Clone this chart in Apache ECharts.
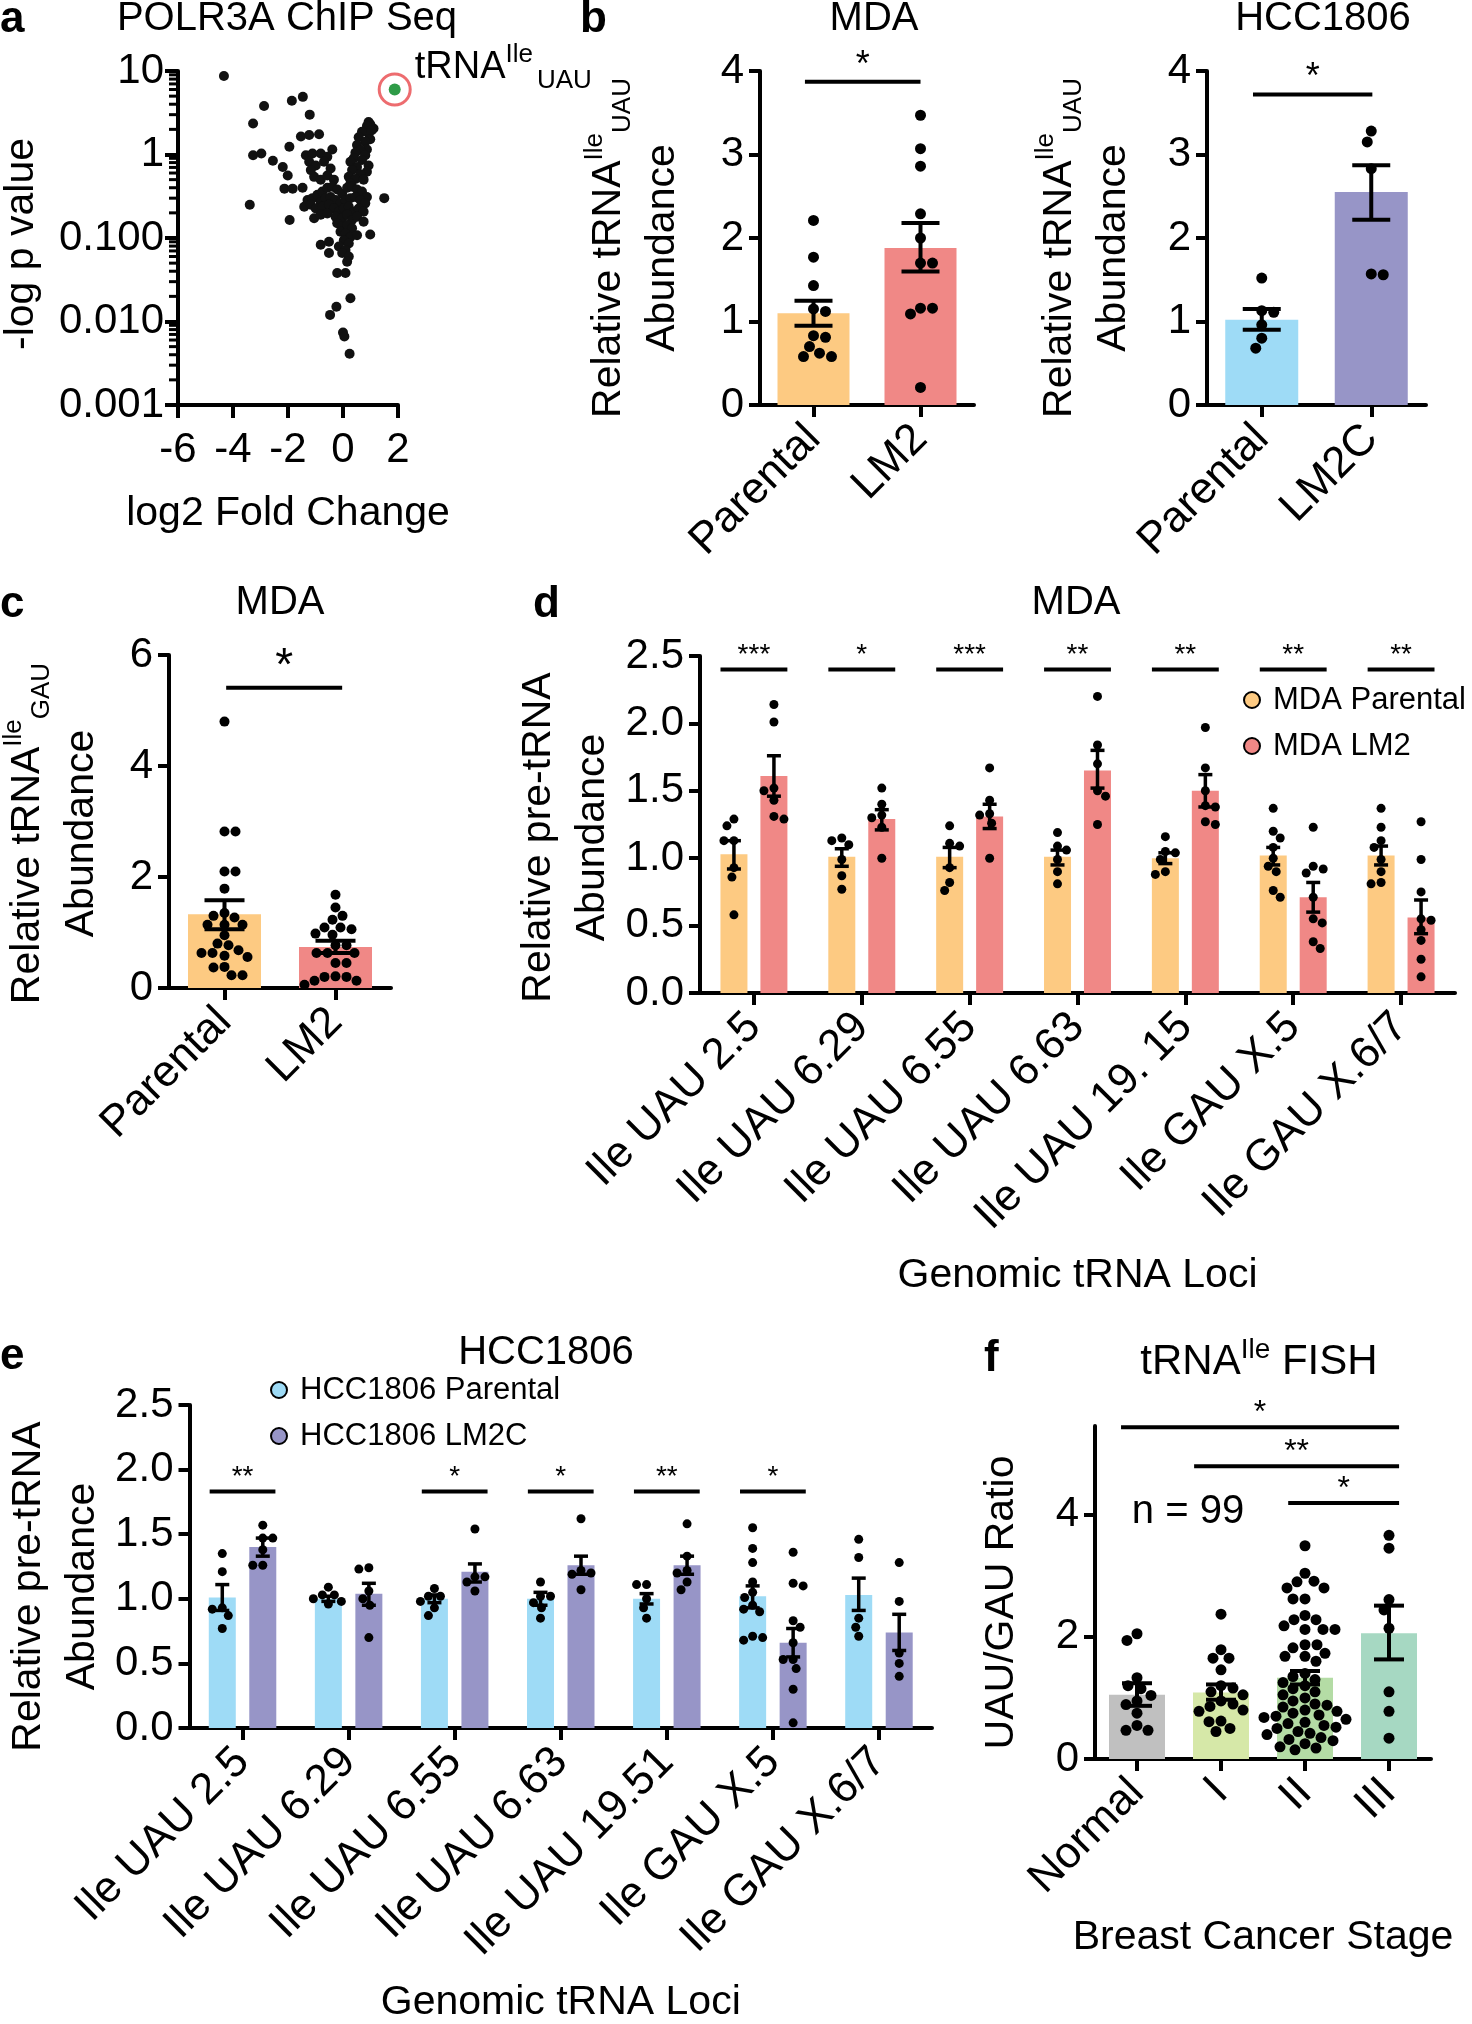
<!DOCTYPE html>
<html>
<head>
<meta charset="utf-8">
<script src="https://cdn.jsdelivr.net/npm/echarts@6/dist/echarts.min.js"></script>
<style>
html, body { margin: 0; padding: 0; background: #fff; }
#chart { width: 1472px; height: 2024px; }
</style>
</head>
<body>
<div id="chart"></div>
<script>
const FONT = '"Liberation Sans", Arial, Helvetica, sans-serif'

// ---- a: POLR3A ChIP Seq volcano (log2 FC, -log p) ----
const volcanoPoints = [
  // outliers
  [-4.33, 8.7], [-1.46, 4.9], [-1.86, 4.4], [-2.87, 3.8], [-1.21, 3.0], [-3.27, 2.35],
  [-3.27, 0.98], [-2.97, 1.03], [-3.39, 0.25], [-1.94, 0.164], [1.5, 0.3], [0.99, 0.11],
  [-0.24, 0.015], [-0.47, 0.012], [0.0, 0.0074], [0.05, 0.0066], [0.24, 0.0041],
  // right arm
  [0.93, 2.45], [0.99, 2.3], [1.11, 2.05], [0.87, 2.19], [1.05, 1.96], [0.93, 1.79], [0.69, 1.87],
  [0.57, 1.61], [0.99, 1.52], [0.81, 1.42], [0.51, 1.3], [0.87, 1.15], [0.63, 1.13], [0.45, 1.05],
  [0.81, 0.98], [0.39, 0.9], [0.69, 0.86], [0.27, 0.82], [0.93, 0.74], [0.51, 0.71], [0.33, 0.65],
  [0.87, 0.62], [0.63, 0.58], [0.21, 0.54], [0.45, 0.51], [0.75, 0.5], [0.27, 0.45],
  // left arm
  [-1.53, 1.64], [-1.23, 1.71], [-0.87, 1.75], [-1.95, 1.24], [-0.39, 1.15], [-1.35, 0.98],
  [-1.11, 1.03], [-0.81, 1.03], [-0.57, 0.94], [-1.23, 0.82], [-0.99, 0.74], [-0.69, 0.82],
  [-0.45, 0.68], [-1.05, 0.54], [-0.81, 0.5], [-0.57, 0.56], [-0.33, 0.5], [-2.19, 0.71],
  [-2.01, 0.56], [-2.13, 0.39], [-1.83, 0.39], [-1.47, 0.4], [-2.55, 0.84], [-1.17, 0.65],
  // centre
  [-1.29, 0.285], [-1.11, 0.3], [-0.93, 0.33], [-0.75, 0.36], [-0.57, 0.4], [-0.39, 0.41],
  [-0.21, 0.38], [-0.03, 0.34], [0.15, 0.4], [0.33, 0.41], [0.51, 0.38], [0.69, 0.36], [0.87, 0.31],
  [-0.81, 0.27], [-0.63, 0.3], [-0.45, 0.31], [-0.27, 0.285], [-0.09, 0.26], [0.09, 0.285],
  [0.27, 0.3], [0.45, 0.31], [0.63, 0.285], [0.81, 0.26], [-1.41, 0.237], [-1.17, 0.25],
  [-0.99, 0.226], [-0.75, 0.237], [-0.51, 0.25], [-0.33, 0.226], [-0.15, 0.206], [0.03, 0.226],
  [0.21, 0.237], [0.39, 0.206], [0.57, 0.226], [0.75, 0.206], [-1.05, 0.172], [-0.81, 0.19],
  [-0.57, 0.197], [-0.27, 0.18], [-0.03, 0.172], [0.15, 0.19], [0.33, 0.164], [0.51, 0.18], [0.75, 0.157],
  // lower tail
  [-0.21, 0.15], [-0.03, 0.137], [0.15, 0.143], [0.33, 0.131], [-0.09, 0.119], [0.09, 0.113],
  [0.27, 0.103], [0.51, 0.108], [0.03, 0.094], [0.21, 0.086], [-0.15, 0.079], [0.09, 0.072],
  [-0.03, 0.066], [0.21, 0.06], [0.15, 0.052], [-0.81, 0.083], [-0.51, 0.09], [-0.51, 0.066],
  [-0.21, 0.038], [0.09, 0.038], [0.27, 0.019]
]
const volcanoHit = [[1.88, 6.0]]

// ---- b: tRNA-Ile-UAU abundance ----
const bMdaCats = ['Parental', 'LM2']
const bMdaMean = [1.1, 1.88]
const bMdaLo = [0.95, 1.6]
const bMdaHi = [1.25, 2.18]
const bMdaDots = [
  [2.21, 1.77, 1.43, 1.15, 1.12, 0.83, 0.81, 0.7, 0.62, 0.58, 0.58],
  [3.47, 3.07, 2.86, 2.29, 2.0, 1.7, 1.7, 1.16, 1.16, 1.09, 0.21]
]
const bHccCats = ['Parental', 'LM2C']
const bHccMean = [1.02, 2.55]
const bHccLo = [0.9, 2.22]
const bHccHi = [1.15, 2.87]
const bHccDots = [
  [1.52, 1.13, 1.11, 0.96, 0.8, 0.68],
  [3.28, 3.15, 2.83, 1.57, 1.56]
]

// ---- c: tRNA-Ile-GAU abundance ----
const cCats = ['Parental', 'LM2']
const cMean = [1.33, 0.74]
const cLo = [1.06, 0.63]
const cHi = [1.58, 0.85]
const cDots = [
  [4.8, 2.82, 2.82, 2.1, 2.1, 1.79, 1.35, 1.3, 1.27, 1.14, 1.14, 1.14, 0.95, 0.8, 0.77, 0.68, 0.63, 0.63, 0.58, 0.56, 0.38, 0.37, 0.23, 0.23],
  [1.68, 1.45, 1.3, 1.23, 1.09, 1.09, 1.06, 0.98, 0.96, 0.77, 0.77, 0.63, 0.63, 0.63, 0.45, 0.45, 0.21, 0.2, 0.2, 0.13, 0.13, 0.06]
]

// ---- d: MDA pre-tRNA ----
const dCats = ['Ile UAU 2.5', 'Ile UAU 6.29', 'Ile UAU 6.55', 'Ile UAU 6.63', 'Ile UAU 19. 15', 'Ile GAU X.5', 'Ile GAU X.6/7']
const dParMean = [1.03, 1.01, 1.01, 1.01, 1.0, 1.02, 1.02]
const dParLo = [0.92, 0.94, 0.93, 0.95, 0.96, 0.95, 0.95]
const dParHi = [1.13, 1.07, 1.08, 1.06, 1.04, 1.08, 1.09]
const dLm2Mean = [1.61, 1.29, 1.31, 1.65, 1.5, 0.71, 0.56]
const dLm2Lo = [1.46, 1.21, 1.22, 1.52, 1.38, 0.6, 0.44]
const dLm2Hi = [1.76, 1.36, 1.4, 1.8, 1.62, 0.82, 0.69]
const dParDots = [
  [1.29, 1.24, 1.13, 1.13, 0.93, 0.86, 0.58],
  [1.15, 1.13, 1.1, 0.99, 0.87, 0.77],
  [1.24, 1.11, 1.09, 0.93, 0.82, 0.76],
  [1.19, 1.09, 1.06, 0.99, 0.9, 0.81],
  [1.16, 1.05, 1.04, 0.99, 0.9, 0.88],
  [1.37, 1.2, 1.15, 1.08, 1.0, 0.94, 0.9, 0.76, 0.71],
  [1.37, 1.23, 1.13, 1.08, 0.99, 0.9, 0.82, 0.81]
]
const dLm2Dots = [
  [2.14, 2.01, 1.52, 1.5, 1.43, 1.31, 1.29],
  [1.52, 1.4, 1.32, 1.3, 1.23, 1.0],
  [1.67, 1.43, 1.33, 1.32, 1.26, 1.0],
  [2.2, 1.84, 1.7, 1.5, 1.46, 1.25],
  [1.97, 1.67, 1.5, 1.39, 1.38, 1.27, 1.25],
  [1.23, 0.94, 0.92, 0.89, 0.71, 0.55, 0.52, 0.38, 0.33],
  [1.27, 0.99, 0.75, 0.55, 0.54, 0.47, 0.39, 0.25, 0.12]
]
const dStars = ['***', '*', '***', '**', '**', '**', '**']

// ---- e: HCC1806 pre-tRNA ----
const eCats = ['Ile UAU 2.5', 'Ile UAU 6.29', 'Ile UAU 6.55', 'Ile UAU 6.63', 'Ile UAU 19.51', 'Ile GAU X.5', 'Ile GAU X.6/7']
const eParMean = [1.01, 1.0, 1.0, 1.0, 1.0, 1.02, 1.03]
const eParLo = [0.91, 0.98, 0.97, 0.95, 0.96, 0.93, 0.91]
const eParHi = [1.11, 1.02, 1.03, 1.05, 1.04, 1.1, 1.16]
const eLmMean = [1.4, 1.04, 1.21, 1.26, 1.26, 0.66, 0.74]
const eLmLo = [1.33, 0.95, 1.13, 1.19, 1.19, 0.55, 0.6]
const eLmHi = [1.47, 1.12, 1.27, 1.33, 1.33, 0.77, 0.88]
const eParDots = [
  [1.35, 1.21, 0.93, 0.92, 0.87, 0.77],
  [1.09, 1.03, 1.03, 1.0, 0.98, 0.96],
  [1.08, 1.02, 1.02, 0.98, 0.93, 0.87],
  [1.13, 1.02, 1.02, 0.97, 0.93, 0.85],
  [1.11, 1.11, 1.0, 0.93, 0.85],
  [1.55, 1.39, 1.28, 1.13, 1.05, 1.01, 0.95, 0.92, 0.9, 0.71, 0.7, 0.68],
  [1.46, 1.32, 0.85, 0.78, 0.71]
]
const eLmDots = [
  [1.57, 1.47, 1.47, 1.38, 1.26, 1.26],
  [1.24, 1.23, 1.06, 1.0, 0.95, 0.7],
  [1.54, 1.17, 1.17, 1.13, 1.06],
  [1.62, 1.22, 1.2, 1.19, 1.07],
  [1.58, 1.33, 1.22, 1.2, 1.13, 1.07],
  [1.36, 1.12, 1.1, 0.83, 0.78, 0.66, 0.53, 0.53, 0.46, 0.3, 0.04],
  [1.28, 0.98, 0.58, 0.5, 0.4]
]
const eStars = ['**', '', '*', '*', '**', '*', '']

// ---- f: tRNA-Ile FISH, UAU/GAU ratio by stage ----
const fCats = ['Normal', 'I', 'II', 'III']
const fMean = [1.05, 1.09, 1.33, 2.06]
const fLo = [0.87, 0.97, 1.22, 1.63]
const fHi = [1.24, 1.22, 1.44, 2.51]
const fDots = [
  [2.05, 1.94, 1.33, 1.2, 1.15, 1.04, 0.95, 0.89, 0.75, 0.55, 0.47, 0.47],
  [2.37, 1.79, 1.65, 1.65, 1.46, 1.2, 1.16, 1.1, 1.05, 0.95, 0.9, 0.86, 0.8, 0.78, 0.62, 0.61, 0.5, 0.45],
  [3.49, 3.04, 2.91, 2.9, 2.8, 2.8, 2.62, 2.62, 2.35, 2.28, 2.28, 2.18, 2.12, 2.12, 2.12, 1.87, 1.87, 1.82,
    1.73, 1.68, 1.68, 1.6, 1.4, 1.35, 1.3, 1.25, 1.2, 1.15, 1.1, 1.05, 1.0, 0.95, 0.9, 0.88, 0.85, 0.8, 0.78,
    0.75, 0.72, 0.7, 0.68, 0.65, 0.6, 0.58, 0.55, 0.52, 0.5, 0.45, 0.42, 0.4, 0.35, 0.32, 0.3, 0.25, 0.2, 0.18, 0.15],
  [3.66, 3.45, 2.61, 2.44, 2.14, 1.1, 0.78, 0.34]
]
const fBrackets = [[-0.19, 3.12, 5.43, '*'], [0.68, 3.12, 4.79, '**'], [1.8, 3.12, 4.19, '*']]

const palette = {
  mdaPar: '#fdca82', mdaLm2: '#f08886', hccPar: '#9edbf6', hccLm2: '#9795c7',
  fStage: ['#c0c0c0', '#d6e8a8', '#b4dca5', '#a6d8c2']
}

const grids = [
  { left: 176, top: 71, width: 222, height: 334 },
  { left: 760, top: 71, width: 214, height: 334 },
  { left: 1207, top: 71, width: 219, height: 334 },
  { left: 169, top: 655, width: 222, height: 333 },
  { left: 700, top: 656, width: 755, height: 337 },
  { left: 169, top: 1405, width: 763, height: 335 },
  { left: 1095, top: 1426, width: 336, height: 333 }
]

const nameRich = {
  t: { fontSize: 41, fontFamily: FONT, color: '#000', lineHeight: 54 },
  sup: { fontSize: 26, fontFamily: FONT, color: '#000', verticalAlign: 'top', lineHeight: 26 },
  sub: { fontSize: 26, fontFamily: FONT, color: '#000', verticalAlign: 'bottom', lineHeight: 26 }
}

// simple beeswarm: nudge dots sideways until they stop overlapping
function swarm (ys, r) {
  const d = 2 * r + 0.5
  const order = ys.map((y, i) => i).sort((a, b) => ys[a] - ys[b])
  const placed = []
  const dx = new Array(ys.length).fill(0)
  order.forEach((i, n) => {
    const y = ys[i]
    for (let k = 0; k < 400; k++) {
      const sgn = (k + n) % 2 ? 1 : -1
      const cand = k === 0 ? 0 : sgn * Math.ceil(k / 2)
      if (placed.every(p => (p[0] - cand) ** 2 + (p[1] - y) ** 2 >= d * d)) {
        dx[i] = cand
        placed.push([cand, y])
        break
      }
    }
  })
  return dx
}

function dotSeries (gi, groups, o) {
  return {
    type: 'custom',
    xAxisIndex: gi,
    yAxisIndex: gi,
    z: 5,
    clip: false,
    silent: true,
    data: groups.map(g => [g.cat, g.hi]),
    encode: { x: 0, y: 1 },
    renderItem (params, api) {
      const g = groups[params.dataIndex]
      const cx = api.coord([g.cat, 0])[0] + g.off
      const ys = g.vals.map(v => api.coord([g.cat, v])[1])
      const dx = swarm(ys, o.r)
      const yHi = api.coord([g.cat, g.hi])[1]
      const yLo = api.coord([g.cat, g.lo])[1]
      const ln = { stroke: '#000', lineWidth: o.lw }
      const children = ys.map((y, k) => ({
        type: 'circle', shape: { cx: cx + dx[k], cy: y, r: o.r }, style: { fill: '#000' }
      }))
      children.push(
        { type: 'line', shape: { x1: cx, y1: yHi, x2: cx, y2: yLo }, style: ln },
        { type: 'line', shape: { x1: cx - o.cap, y1: yHi, x2: cx + o.cap, y2: yHi }, style: ln },
        { type: 'line', shape: { x1: cx - o.cap, y1: yLo, x2: cx + o.cap, y2: yLo }, style: ln }
      )
      return { type: 'group', children }
    }
  }
}

function sigSeries (gi, brackets, o) {
  return {
    type: 'custom',
    xAxisIndex: gi,
    yAxisIndex: gi,
    z: 6,
    clip: false,
    silent: true,
    data: brackets.map(b => [0, b[2]]),
    encode: { x: 0, y: 1 },
    renderItem (params, api) {
      const b = brackets[params.dataIndex]
      const band = api.size([1, 0])[0]
      const p = api.coord([0, b[2]])
      const x0 = p[0] + b[0] * band
      const x1 = p[0] + b[1] * band
      return {
        type: 'group',
        children: [
          { type: 'line', shape: { x1: x0, y1: p[1], x2: x1, y2: p[1] }, style: { stroke: '#000', lineWidth: o.lw } },
          {
            type: 'text',
            x: (x0 + x1) / 2,
            y: p[1] - o.lift,
            style: { text: b[3], font: o.font, fill: '#000', align: 'center', verticalAlign: 'middle' }
          }
        ]
      }
    }
  }
}

function singleGroups (lo, hi, dots) {
  return dots.map((v, i) => ({ cat: i, off: 0, lo: lo[i], hi: hi[i], vals: v }))
}
function pairGroups (lo1, hi1, dots1, lo2, hi2, dots2, off) {
  const out = []
  dots1.forEach((v, i) => {
    out.push({ cat: i, off: -off, lo: lo1[i], hi: hi1[i], vals: v })
    out.push({ cat: i, off: off, lo: lo2[i], hi: hi2[i], vals: dots2[i] })
  })
  return out
}

const axisLine = { show: true, onZero: false, lineStyle: { color: '#000', width: 4 } }
const tickStyle = { color: '#000', width: 4 }

function catAxis (gi, cats, extra) {
  return Object.assign({
    type: 'category',
    gridIndex: gi,
    data: cats,
    axisLine,
    axisTick: { show: true, alignWithLabel: true, length: 12, lineStyle: tickStyle },
    axisLabel: { show: true, interval: 0, rotate: 45, color: '#000', fontSize: 44, fontFamily: FONT, margin: 27 },
    splitLine: { show: false },
    nameLocation: 'middle',
    nameTextStyle: { color: '#000', fontSize: 41, fontFamily: FONT }
  }, extra)
}

// namePad pushes a rotated name down the axis a little, like the original layout
function valAxis (gi, max, interval, namePad, extra) {
  return Object.assign({
    type: 'value',
    gridIndex: gi,
    min: 0,
    max,
    interval,
    axisLine,
    axisTick: { show: true, length: 11, lineStyle: tickStyle },
    axisLabel: { show: true, color: '#000', fontSize: 42, fontFamily: FONT, margin: 16 },
    splitLine: { show: false },
    nameLocation: 'middle',
    nameRotate: 90,
    nameTextStyle: { color: '#000', fontSize: 41, fontFamily: FONT, rich: nameRich, padding: [0, namePad, 0, 0] }
  }, extra)
}

function barSeries (gi, name, data, extra) {
  return Object.assign({
    type: 'bar', name, xAxisIndex: gi, yAxisIndex: gi, data, z: 2, silent: true
  }, extra)
}

function legendFor (names, left, top) {
  return {
    data: names,
    orient: 'vertical', left, top, itemGap: 10,
    itemWidth: 16, itemHeight: 16, icon: 'circle',
    itemStyle: { borderColor: '#000', borderWidth: 2 },
    textStyle: { fontSize: 31, fontFamily: FONT, color: '#000', lineHeight: 36, padding: [0, 0, 0, 8] },
    selectedMode: false
  }
}

const minorLogTicks = []
for (let e = -3; e < 1; e++) {
  for (let m = 2; m < 10; m++) minorLogTicks.push([-6, m * Math.pow(10, e)])
}

const uauName = '{t|Relative tRNA}{sup|Ile}{sub|UAU}\n{t|Abundance}'
const dec1 = v => v.toFixed(1)

const option = {
  animation: false,
  backgroundColor: '#fff',
  textStyle: { fontFamily: FONT, color: '#000' },
  grid: grids.map(g => Object.assign({ containLabel: false }, g)),
  legend: [
    legendFor(['MDA Parental', 'MDA LM2'], 1238, 677),
    legendFor(['HCC1806 Parental', 'HCC1806 LM2C'], 265, 1367)
  ],
  xAxis: [
    {
      type: 'value', gridIndex: 0, min: -6, max: 2, interval: 2,
      axisLine, axisTick: { show: true, length: 13, lineStyle: tickStyle },
      axisLabel: { color: '#000', fontSize: 42, fontFamily: FONT, margin: 24 },
      splitLine: { show: false },
      name: 'log2 Fold Change', nameLocation: 'middle', nameGap: 88,
      nameTextStyle: { color: '#000', fontSize: 41, fontFamily: FONT }
    },
    catAxis(1, bMdaCats),
    catAxis(2, bHccCats),
    catAxis(3, cCats),
    catAxis(4, dCats, { name: 'Genomic tRNA Loci', nameGap: 262 }),
    catAxis(5, eCats, { name: 'Genomic tRNA Loci', nameGap: 254 }),
    catAxis(6, fCats, { name: 'Breast Cancer Stage', nameGap: 158 })
  ],
  yAxis: [
    {
      type: 'log', logBase: 10, gridIndex: 0, min: 0.001, max: 10,
      axisLine, axisTick: { show: true, length: 13, lineStyle: tickStyle },
      axisLabel: {
        color: '#000', fontSize: 42, fontFamily: FONT, margin: 14,
        formatter: v => {
          const e = Math.round(Math.log10(v))
          return e >= 0 ? String(Math.pow(10, e)) : Math.pow(10, e).toFixed(3)
        }
      },
      splitLine: { show: false },
      name: '-log p value', nameLocation: 'middle', nameRotate: 90, nameGap: 136,
      nameTextStyle: { color: '#000', fontSize: 41, fontFamily: FONT, padding: [0, 12, 0, 0] }
    },
    valAxis(1, 4, 1, 20, { name: uauName, nameGap: 70 }),
    valAxis(2, 4, 1, 20, { name: uauName, nameGap: 66 }),
    valAxis(3, 6, 2, 24, { name: '{t|Relative tRNA}{sup|Ile}{sub|GAU}\n{t|Abundance}', nameGap: 60 }),
    valAxis(4, 2.5, 0.5, 26, {
      name: '{t|Relative pre-tRNA}\n{t|Abundance}', nameGap: 80,
      axisLabel: { color: '#000', fontSize: 42, fontFamily: FONT, margin: 16, formatter: dec1 }
    }),
    valAxis(5, 2.5, 0.5, 40, {
      name: '{t|Relative pre-tRNA}\n{t|Abundance}', nameGap: 80,
      axisLabel: { color: '#000', fontSize: 42, fontFamily: FONT, margin: 16, formatter: dec1 }
    }),
    valAxis(6, 5.45, 2, 20, {
      name: '{t|UAU/GAU Ratio}', nameGap: 66,
      axisTick: { show: true, length: 11, lineStyle: tickStyle, customValues: [0, 2, 4] },
      axisLabel: { color: '#000', fontSize: 42, fontFamily: FONT, margin: 16, customValues: [0, 2, 4] }
    })
  ],
  series: [
    // a
    {
      type: 'scatter', xAxisIndex: 0, yAxisIndex: 0, data: volcanoPoints,
      symbolSize: 10, itemStyle: { color: '#111', opacity: 1 }, silent: true, z: 3
    },
    {
      type: 'scatter', xAxisIndex: 0, yAxisIndex: 0, data: volcanoHit,
      symbol: 'circle', symbolSize: 31,
      itemStyle: { color: 'rgba(0,0,0,0)', borderColor: '#e8474b', borderWidth: 3 }, silent: true, z: 3
    },
    {
      type: 'scatter', xAxisIndex: 0, yAxisIndex: 0, data: volcanoHit,
      symbolSize: 12, itemStyle: { color: '#2e9b47', opacity: 1 }, silent: true, z: 4,
      label: {
        show: true, position: 'right', distance: 14, offset: [0, -22],
        formatter: '{m|tRNA}{sup|Ile}{sub|UAU}',
        rich: {
          m: { fontSize: 38, fontFamily: FONT, color: '#000', lineHeight: 52 },
          sup: { fontSize: 26, fontFamily: FONT, color: '#000', verticalAlign: 'top', lineHeight: 26 },
          sub: { fontSize: 26, fontFamily: FONT, color: '#000', verticalAlign: 'bottom', lineHeight: 26, padding: [0, 0, 0, 4] }
        }
      }
    },
    {
      type: 'custom', xAxisIndex: 0, yAxisIndex: 0, data: minorLogTicks, silent: true, clip: false, z: 3,
      renderItem (params, api) {
        const p = api.coord([api.value(0), api.value(1)])
        return { type: 'line', shape: { x1: p[0] - 9, y1: p[1], x2: p[0], y2: p[1] }, style: { stroke: '#000', lineWidth: 3 } }
      }
    },
    // b MDA
    barSeries(1, 'b MDA', bMdaMean.map((v, i) => ({ value: v, itemStyle: { color: [palette.mdaPar, palette.mdaLm2][i] } })), { barWidth: 72 }),
    dotSeries(1, singleGroups(bMdaLo, bMdaHi, bMdaDots), { r: 5.5, lw: 4, cap: 19 }),
    sigSeries(1, [[-0.08, 1.0, 3.87, '*']], { lw: 4, lift: 16, font: '36px ' + FONT }),
    // b HCC1806
    barSeries(2, 'b HCC', bHccMean.map((v, i) => ({ value: v, itemStyle: { color: [palette.hccPar, palette.hccLm2][i] } })), { barWidth: 73 }),
    dotSeries(2, singleGroups(bHccLo, bHccHi, bHccDots), { r: 5.5, lw: 4, cap: 19 }),
    sigSeries(2, [[-0.08, 1.01, 3.72, '*']], { lw: 4, lift: 16, font: '36px ' + FONT }),
    // c
    barSeries(3, 'c MDA', cMean.map((v, i) => ({ value: v, itemStyle: { color: [palette.mdaPar, palette.mdaLm2][i] } })), { barWidth: 73 }),
    dotSeries(3, singleGroups(cLo, cHi, cDots), { r: 5, lw: 4, cap: 20 }),
    sigSeries(3, [[0.015, 1.06, 5.41, '*']], { lw: 4, lift: 20, font: '46px ' + FONT }),
    // d
    barSeries(4, 'MDA Parental', dParMean, { barWidth: 27, barGap: '48%', itemStyle: { color: palette.mdaPar } }),
    barSeries(4, 'MDA LM2', dLm2Mean, { barWidth: 27, barGap: '48%', itemStyle: { color: palette.mdaLm2 } }),
    dotSeries(4, pairGroups(dParLo, dParHi, dParDots, dLm2Lo, dLm2Hi, dLm2Dots, 20), { r: 4.5, lw: 3.5, cap: 7 }),
    sigSeries(4, dStars.map((s, i) => [i - 0.31, i + 0.31, 2.4, s]), { lw: 4, lift: 14, font: '28px ' + FONT }),
    // e
    barSeries(5, 'HCC1806 Parental', eParMean, { barWidth: 27, barGap: '50%', itemStyle: { color: palette.hccPar } }),
    barSeries(5, 'HCC1806 LM2C', eLmMean, { barWidth: 27, barGap: '50%', itemStyle: { color: palette.hccLm2 } }),
    dotSeries(5, pairGroups(eParLo, eParHi, eParDots, eLmLo, eLmHi, eLmDots, 20.25), { r: 4.5, lw: 3.5, cap: 7 }),
    sigSeries(5, eStars.map((s, i) => [i - 0.31, i + 0.31, 1.83, s]).filter(b => b[3]), { lw: 4, lift: 14, font: '28px ' + FONT }),
    // f
    barSeries(6, 'f FISH', fMean.map((v, i) => ({ value: v, itemStyle: { color: palette.fStage[i] } })), { barWidth: 56 }),
    dotSeries(6, singleGroups(fLo, fHi, fDots), { r: 5.5, lw: 4, cap: 15 }),
    sigSeries(6, fBrackets, { lw: 4, lift: 14, font: '32px ' + FONT })
  ],
  graphic: [
    { type: 'text', x: 0, y: 20, style: { text: 'a', font: 'bold 44px ' + FONT, fill: '#000', align: 'left', verticalAlign: 'middle' } },
    { type: 'text', x: 580, y: 20, style: { text: 'b', font: 'bold 44px ' + FONT, fill: '#000', align: 'left', verticalAlign: 'middle' } },
    { type: 'text', x: 0, y: 605, style: { text: 'c', font: 'bold 44px ' + FONT, fill: '#000', align: 'left', verticalAlign: 'middle' } },
    { type: 'text', x: 533, y: 605, style: { text: 'd', font: 'bold 44px ' + FONT, fill: '#000', align: 'left', verticalAlign: 'middle' } },
    { type: 'text', x: 0, y: 1357, style: { text: 'e', font: 'bold 44px ' + FONT, fill: '#000', align: 'left', verticalAlign: 'middle' } },
    { type: 'text', x: 984, y: 1359, style: { text: 'f', font: 'bold 44px ' + FONT, fill: '#000', align: 'left', verticalAlign: 'middle' } },
    { type: 'text', x: 287, y: 19, style: { text: 'POLR3A ChIP Seq', font: '40px ' + FONT, fill: '#000', align: 'center', verticalAlign: 'middle' } },
    { type: 'text', x: 874, y: 19, style: { text: 'MDA', font: '40px ' + FONT, fill: '#000', align: 'center', verticalAlign: 'middle' } },
    { type: 'text', x: 1323, y: 19, style: { text: 'HCC1806', font: '40px ' + FONT, fill: '#000', align: 'center', verticalAlign: 'middle' } },
    { type: 'text', x: 280, y: 603, style: { text: 'MDA', font: '40px ' + FONT, fill: '#000', align: 'center', verticalAlign: 'middle' } },
    { type: 'text', x: 1076, y: 603, style: { text: 'MDA', font: '40px ' + FONT, fill: '#000', align: 'center', verticalAlign: 'middle' } },
    { type: 'text', x: 546, y: 1353, style: { text: 'HCC1806', font: '40px ' + FONT, fill: '#000', align: 'center', verticalAlign: 'middle' } },
    {
      type: 'text', x: 1259, y: 1362,
      style: {
        text: '{m|tRNA}{sup|Ile}{m| FISH}', align: 'center', verticalAlign: 'middle',
        rich: {
          m: { fontSize: 42, fontFamily: FONT, color: '#000', lineHeight: 52 },
          sup: { fontSize: 28, fontFamily: FONT, color: '#000', verticalAlign: 'top', lineHeight: 28 }
        }
      }
    },
    { type: 'text', x: 1188, y: 1512, style: { text: 'n = 99', font: '40px ' + FONT, fill: '#000', align: 'center', verticalAlign: 'middle' } }
  ]
}

const chart = echarts.init(document.getElementById('chart'), null, { renderer: 'canvas', width: 1472, height: 2024 })
chart.setOption(option)
</script>
</body>
</html>
